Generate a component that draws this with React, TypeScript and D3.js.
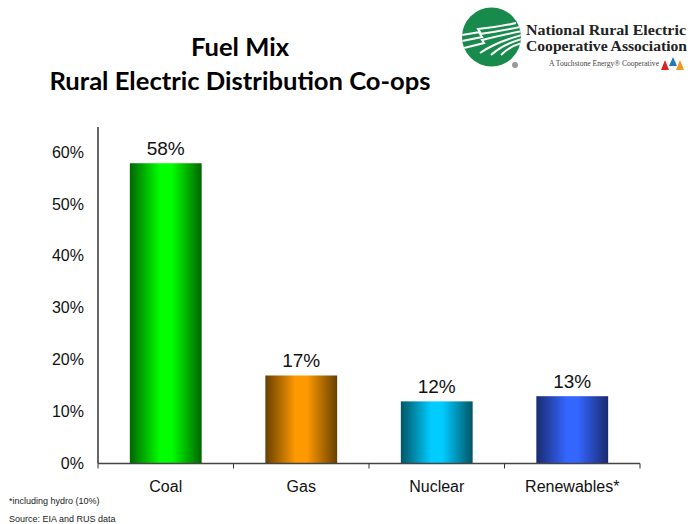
import * as d3 from "d3";
import React from "react";

const categories = ["Coal", "Gas", "Nuclear", "Renewables*"];
const shares = [58, 17, 12, 13];
const yTicks = [0, 10, 20, 30, 40, 50, 60];
const mainColours = ["#00ff00", "#ff9900", "#00ccff", "#3366ff"];
const edgeColours = ["#006600", "#664000", "#005566", "#1a2a70"];

const width = 688;
const height = 524;
const axisFont = "Liberation Sans, Arial, sans-serif";

const x = d3.scaleBand<string>().domain(categories).range([98, 640]).paddingInner(0.47).paddingOuter(0.235);
const y = d3.scaleLinear().domain([0, 65]).range([463.5, 127]);

function App() {
    return (
        <svg width={width} height={height} style={{ position: "absolute", left: 0, top: 0, background: "#fff" }}>
            <defs>
                {categories.map((c, i) => (
                    <linearGradient key={c} id={`bar${i}`} x1="0" x2="1" y1="0" y2="0">
                        <stop offset="0" stopColor={edgeColours[i]} />
                        <stop offset="0.42" stopColor={mainColours[i]} />
                        <stop offset="0.58" stopColor={mainColours[i]} />
                        <stop offset="1" stopColor={edgeColours[i]} />
                    </linearGradient>
                ))}
                <clipPath id="logoClip">
                    <circle cx={491.5} cy={37} r={29.5} />
                </clipPath>
            </defs>

            {/* title */}
            <g fontFamily="Lato, Carlito, sans-serif" fontWeight="700" fontSize={25.6} textAnchor="middle" fill="#000">
                <text x={240} y={56}>Fuel Mix</text>
                <text x={240} y={90}>Rural Electric Distribution Co-ops</text>
            </g>

            {/* bars */}
            {categories.map((c, i) => (
                <g key={c}>
                    <rect x={x(c)} y={y(shares[i])} width={x.bandwidth()} height={y(0) - y(shares[i])} fill={`url(#bar${i})`} />
                    <text x={(x(c) || 0) + x.bandwidth() / 2} y={y(shares[i]) - 8.5} textAnchor="middle"
                        fontFamily={axisFont} fontSize={19} fill="#111">
                        {shares[i]}%
                    </text>
                    <text x={(x(c) || 0) + x.bandwidth() / 2} y={492} textAnchor="middle"
                        fontFamily={axisFont} fontSize={16} fill="#111">
                        {c}
                    </text>
                </g>
            ))}

            {/* axes */}
            <line x1={98} x2={98} y1={y(65)} y2={y(0)} stroke="#000" strokeWidth={1.2} />
            <line x1={98} x2={640} y1={y(0)} y2={y(0)} stroke="#444" strokeWidth={1.4} />
            {d3.range(0, 5).map(i => {
                const tx = 98 + (i * 542) / 4;
                return <line key={i} x1={tx} x2={tx} y1={y(0)} y2={y(0) + 5} stroke="#333" strokeWidth={1} />;
            })}
            {yTicks.map(t => (
                <text key={t} x={84} y={y(t) + 5} textAnchor="end" fontFamily={axisFont} fontSize={16} fill="#111">
                    {t}%
                </text>
            ))}

            {/* footnotes */}
            <g fontFamily={axisFont} fontSize={9} fill="#222">
                <text x={9} y={504}>*including hydro (10%)</text>
                <text x={9} y={522}>Source: EIA and RUS data</text>
            </g>

            {/* logo */}
            <g>
                <circle cx={491.5} cy={37} r={29.5} fill="#178a4c" />
                <g fill="none" stroke="#fff" strokeWidth={2} clipPath="url(#logoClip)">
                    <path d="M462 35 L480 32 L478 29 Q498 27 516 23" />
                    <path d="M462 41 L482 37 L480 34 Q500 31 520 27" />
                    <path d="M464 48 L484 43 L482 40 Q502 35 522 31" />
                    <path d="M480 53 Q496 42 522 35" />
                    <path d="M491 55 Q503 44 522 39" />
                    <path d="M501 55 Q510 46 522 43" />
                </g>
                <circle cx={515} cy={65} r={3} fill="#999" />
                <g fontFamily="Liberation Serif, serif" fontWeight="700" fontSize={15.5} fill="#222">
                    <text x={526} y={35} textLength={160} lengthAdjust="spacingAndGlyphs">National Rural Electric</text>
                    <text x={526} y={51} textLength={161} lengthAdjust="spacingAndGlyphs">Cooperative Association</text>
                </g>
                <text x={549} y={66} fontFamily="Liberation Serif, serif" fontSize={7.5} fill="#444"
                    textLength={110} lengthAdjust="spacingAndGlyphs">
                    A Touchstone Energy® Cooperative
                </text>
                <path d="M661 70 L665 60 L669 70 Z" fill="#d22" />
                <path d="M669 66 L673 57 L677 66 Z" fill="#27b" />
                <path d="M676 70 L680 60 L684 70 Z" fill="#e92" />
            </g>
        </svg>
    );
}

export default App;
